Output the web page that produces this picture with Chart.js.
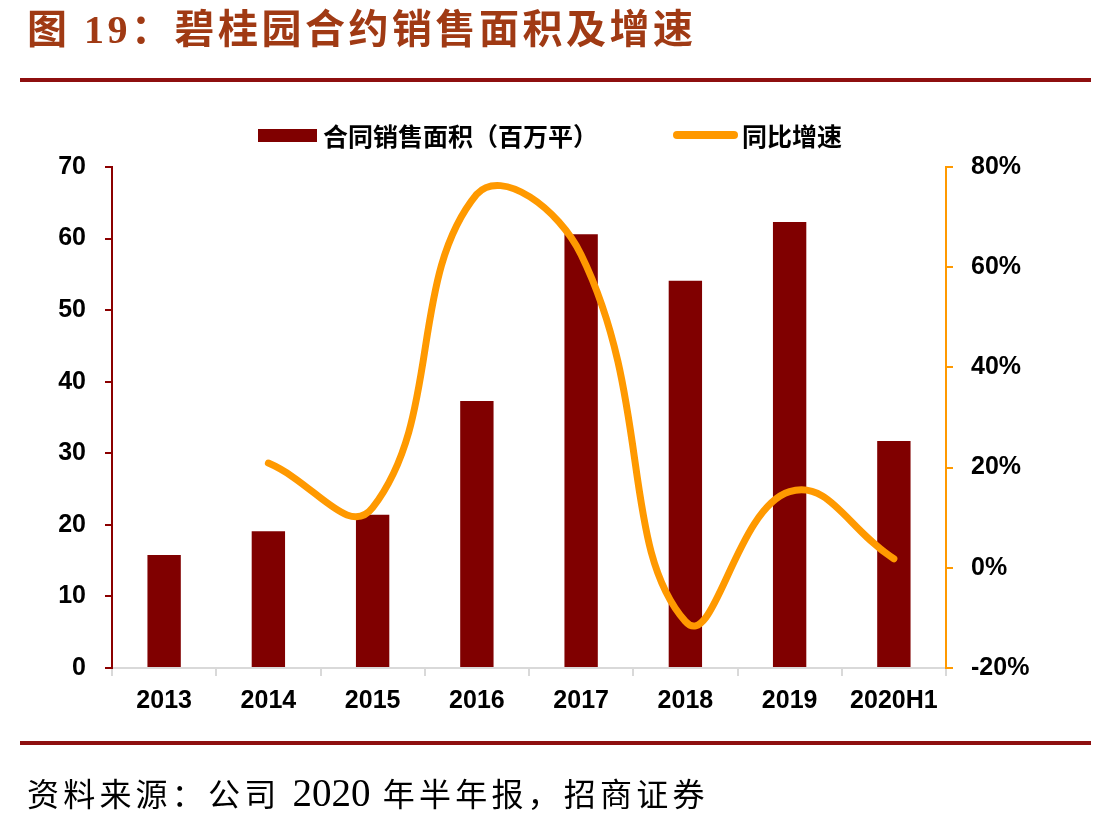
<!DOCTYPE html>
<html>
<head>
<meta charset="utf-8">
<script src="https://cdn.jsdelivr.net/npm/chart.js@4/dist/chart.umd.min.js"></script>
<style>
  html, body { margin: 0; padding: 0; background: #fff; }
  #wrap { position: relative; width: 1111px; height: 825px; overflow: hidden; }
  #c { position: absolute; left: 0; top: 0; }
  .title { position: absolute; left: 27px; top: 8px; font-family: "Liberation Serif", "Noto Sans CJK SC", serif; font-weight: bold; font-size: 40px; line-height: 44px; letter-spacing: 3.5px; color: #A03A14; white-space: nowrap; }
  .rule { position: absolute; left: 20px; width: 1071px; height: 4px; background: #8E0F0F; }
  .lg-box { position: absolute; }
  .lg-text { position: absolute; font-family: "Noto Sans CJK SC", sans-serif; font-weight: bold; font-size: 25px; line-height: 30px; color: #000; white-space: nowrap; }
  .foot { position: absolute; left: 27px; top: 773px; font-family: "Liberation Serif", "Noto Sans CJK SC", serif; font-size: 32px; line-height: 40px; letter-spacing: 4.2px; color: #000; white-space: nowrap; }
  .foot .num { font-size: 39px; letter-spacing: 0; }
</style>
</head>
<body>
<div id="wrap">
  <canvas id="c" width="1111" height="825"></canvas>
  <div class="title">图 19：碧桂园合约销售面积及增速</div>
  <div class="rule" style="top:78px"></div>
  <div class="lg-box" style="left:258px;top:129px;width:59px;height:13px;background:#800000"></div>
  <div class="lg-text" id="lg1" style="left:323px;top:120px"></div>
  <div class="lg-box" style="left:673px;top:131px;width:65px;height:8px;border-radius:4px;background:#FF9900"></div>
  <div class="lg-text" id="lg2" style="left:742px;top:120px"></div>
  <div class="rule" style="top:741px"></div>
  <div class="foot">资料来源：公司 <span class="num">2020</span> 年半年报，招商证券</div>
</div>
<script>
const categories = ['2013', '2014', '2015', '2016', '2017', '2018', '2019', '2020H1'];
const areaValues = [15.8, 19.1, 21.4, 37.3, 60.6, 54.1, 62.3, 31.7];
const growthValues = [null, 20.9, 12.0, 74.6, 62.5, -10.7, 15.2, 1.8];
const areaLabel = '合同销售面积（百万平）';
const growthLabel = '同比增速';
const leftTicks = [0, 10, 20, 30, 40, 50, 60, 70];
const rightTicks = [-20, 0, 20, 40, 60, 80];

document.getElementById('lg1').textContent = areaLabel;
document.getElementById('lg2').textContent = growthLabel;

const tickFont = { family: '"Liberation Sans", Arial, sans-serif', size: 25, weight: 'bold' };

new Chart(document.getElementById('c'), {
  type: 'bar',
  data: {
    labels: categories,
    datasets: [
      {
        type: 'line',
        label: growthLabel,
        data: growthValues,
        yAxisID: 'y1',
        borderColor: '#FF9900',
        backgroundColor: '#FF9900',
        borderWidth: 7,
        borderCapStyle: 'round',
        borderJoinStyle: 'round',
        pointRadius: 0,
        tension: 0.45,
        fill: false,
        order: 0
      },
      {
        type: 'bar',
        label: areaLabel,
        data: areaValues,
        yAxisID: 'y',
        backgroundColor: '#800000',
        barPercentage: 0.32,
        categoryPercentage: 1.0,
        order: 1
      }
    ]
  },
  options: {
    responsive: false,
    animation: false,
    layout: { padding: { left: 0, right: 0, top: 167, bottom: 0 } },
    plugins: { legend: { display: false }, title: { display: false }, tooltip: { enabled: false } },
    scales: {
      x: {
        afterFit: s => { s.height = 157; },
        border: { color: '#D9D9D9', width: 2 },
        grid: { offset: true, drawOnChartArea: false, drawTicks: true, tickLength: 8, color: '#D9D9D9', lineWidth: 2 },
        ticks: { color: '#000', font: tickFont, padding: 10, maxRotation: 0 }
      },
      y: {
        position: 'left',
        min: 0, max: 70,
        afterFit: s => { s.width = 112; },
        afterBuildTicks: s => { s.ticks = leftTicks.map(v => ({ value: v })); },
        border: { color: '#8B0000', width: 2 },
        grid: { drawOnChartArea: false, drawTicks: true, tickLength: 7, color: '#8B0000', lineWidth: 2 },
        ticks: { color: '#000', font: tickFont, padding: 19 }
      },
      y1: {
        position: 'right',
        min: -20, max: 80,
        afterFit: s => { s.width = 165; },
        afterBuildTicks: s => { s.ticks = rightTicks.map(v => ({ value: v })); },
        border: { color: '#FF9900', width: 2 },
        grid: { drawOnChartArea: false, drawTicks: true, tickLength: 7, color: '#FF9900', lineWidth: 2 },
        ticks: { color: '#000', font: tickFont, padding: 18, callback: v => v + '%' }
      }
    }
  }
});
</script>
</body>
</html>
